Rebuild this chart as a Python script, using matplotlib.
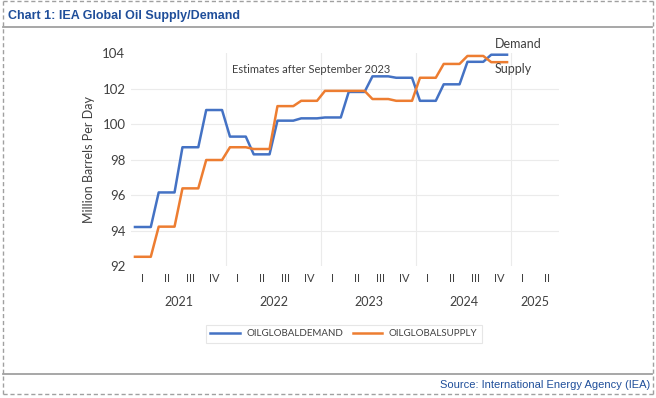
import matplotlib
matplotlib.use("Agg")
import matplotlib.pyplot as plt
from matplotlib.lines import Line2D
from matplotlib.transforms import blended_transform_factory
import numpy as np

# ---- data (monthly, Jan 2021 .. Dec 2024) ----
demand = [94.2, 94.2, 94.2, 96.15, 96.15, 96.15, 98.7, 98.7, 98.7, 100.8, 100.8, 100.8,
          99.3, 99.3, 99.3, 98.3, 98.3, 98.3, 100.2, 100.2, 100.2, 100.33, 100.33, 100.33,
          100.38, 100.38, 100.38, 101.82, 101.82, 101.82, 102.7, 102.7, 102.7, 102.62, 102.62, 102.62,
          101.32, 101.32, 101.32, 102.25, 102.25, 102.25, 103.52, 103.52, 103.52, 103.92, 103.92, 103.92]
supply = [92.52, 92.52, 92.52, 94.22, 94.22, 94.22, 96.38, 96.38, 96.38, 97.98, 97.98, 97.98,
          98.7, 98.7, 98.7, 98.6, 98.6, 98.6, 101.02, 101.02, 101.02, 101.32, 101.32, 101.32,
          101.88, 101.88, 101.88, 101.88, 101.88, 101.88, 101.42, 101.42, 101.42, 101.32, 101.32, 101.32,
          102.62, 102.62, 102.62, 103.4, 103.4, 103.4, 103.85, 103.85, 103.85, 103.5, 103.5, 103.5]
quarter_labels = ["I", "II", "III", "IV"] * 4 + ["I", "II"]
year_labels = ["2021", "2022", "2023", "2024", "2025"]
y_ticks = [92, 94, 96, 98, 100, 102, 104]

BLUE = "#4472C4"
ORANGE = "#ED7D31"
TXT = "#404040"
NAVY = "#1F4E9A"
FONT = ["Lato", "DejaVu Sans"]

fig = plt.figure(figsize=(6.56, 3.98), dpi=100)
fig.patch.set_facecolor("white")

ax = fig.add_axes([131/656, 1-266/398, (558.5-131)/656, (266-53.3)/398])
months = np.arange(len(demand)) + 0.5
ax.plot(months, demand, color=BLUE, lw=1.8, label="OILGLOBALDEMAND", solid_joinstyle="round")
ax.plot(months, supply, color=ORANGE, lw=1.8, label="OILGLOBALSUPPLY", solid_joinstyle="round")

ax.set_xlim(0, 54)
ax.set_ylim(92, 104)
for s in ax.spines.values():
    s.set_visible(False)

for v in y_ticks[1:-1]:
    ax.axhline(v, color="#EBEBEB", lw=0.8, zorder=0)
for v in [12, 24, 36, 48]:
    ax.axvline(v, color="#EBEBEB", lw=0.8, zorder=0)

ax.set_yticks(y_ticks)
ax.set_yticklabels([str(v) for v in y_ticks], fontsize=9.5, color=TXT, family=FONT)
qpos = np.arange(len(quarter_labels)) * 3 + 1.5
ax.set_xticks(qpos)
ax.set_xticklabels(quarter_labels, fontsize=8, color=TXT, family=FONT)
ax.tick_params(axis="both", length=0)
ax.tick_params(axis="x", pad=5)
ax.tick_params(axis="y", pad=4)

trans = blended_transform_factory(ax.transData, ax.transAxes)
ypos = [6, 18, 30, 42, 51]
for xp, lab in zip(ypos, year_labels):
    ax.text(xp, -0.168, lab, transform=trans, ha="center", va="center",
            fontsize=9, color=TXT, family=FONT)

ax.set_ylabel("Million Barrels Per Day", fontsize=9, color=TXT, family=FONT, labelpad=5)

ax.text(12.75, 103.1, "Estimates after September 2023", fontsize=8, color=TXT,
        family=FONT, ha="left", va="center")
ax.text(46.0, 104.5, "Demand", fontsize=9, color=TXT, family=FONT, ha="left",
        va="center", clip_on=False)
ax.text(45.9, 103.1, "Supply", fontsize=9, color=TXT, family=FONT, ha="left", va="center")

leg = fig.legend(loc="center", bbox_to_anchor=(344/656, 1-334/398), ncol=2,
                 prop={"family": FONT, "size": 7}, frameon=True, fancybox=False,
                 edgecolor="#E0E0E0", handlelength=3.0, columnspacing=1.0,
                 handletextpad=0.7, borderpad=0.45, borderaxespad=0)
for t in leg.get_texts():
    t.set_color(TXT)
leg.get_frame().set_linewidth(0.8)

# ---- frame decorations ----
dash = dict(color="#A0A0A0", lw=1.0, linestyle=(0, (3, 2)))
fig.add_artist(Line2D([2.5/656, 652.5/656], [1-1/398, 1-1/398], transform=fig.transFigure, **dash))
fig.add_artist(Line2D([2.5/656, 652.5/656], [1-393.5/398, 1-393.5/398], transform=fig.transFigure, **dash))
fig.add_artist(Line2D([2.5/656, 2.5/656], [1-1/398, 1-393.5/398], transform=fig.transFigure, **dash))
fig.add_artist(Line2D([652.5/656, 652.5/656], [1-1/398, 1-393.5/398], transform=fig.transFigure, **dash))
fig.add_artist(Line2D([3/656, 652/656], [1-27/398, 1-27/398], transform=fig.transFigure,
                      color="#A0A0A0", lw=1.3))
fig.add_artist(Line2D([3/656, 652/656], [1-374.3/398, 1-374.3/398], transform=fig.transFigure,
                      color="#A0A0A0", lw=1.3))

fig.text(8/656, 1-16/398, "Chart 1: IEA Global Oil Supply/Demand", fontsize=9,
         fontweight="bold", color=NAVY, ha="left", va="center",
         family=["Liberation Sans Narrow", "Liberation Sans", "DejaVu Sans"])
fig.text(650/656, 1-385/398, "Source: International Energy Agency (IEA)", fontsize=8,
         color=NAVY, ha="right", va="center",
         family=["Liberation Sans Narrow", "Liberation Sans", "DejaVu Sans"])

fig.savefig("out.png", dpi=100, facecolor="white")
